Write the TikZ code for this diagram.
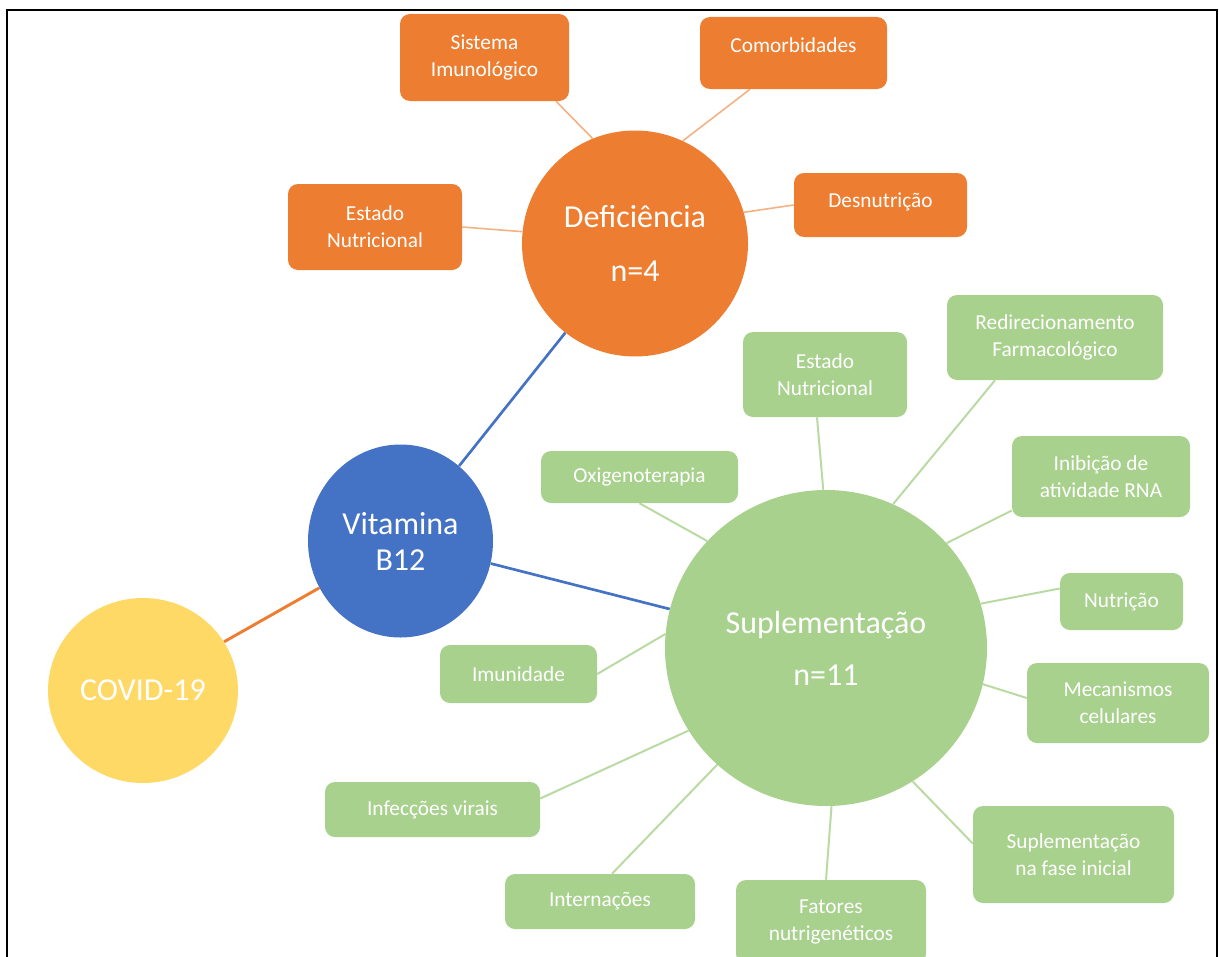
\documentclass[tikz,border=0pt]{standalone}
\usepackage{fontspec}
\setmainfont{Carlito}
\usetikzlibrary{shapes.geometric,calc,backgrounds}
\definecolor{oorange}{HTML}{ED7D31}
\definecolor{ogreen}{HTML}{A9D18E}
\definecolor{oblue}{HTML}{4472C4}
\definecolor{oyellow}{HTML}{FFD966}
\definecolor{lorange}{HTML}{F4B183}
\definecolor{lgreen}{HTML}{B9DAA2}
\begin{document}
\begin{tikzpicture}[x=0.75pt,y=-0.75pt,
  boxbase/.style={rectangle, rounded corners=7.5pt, text=white, align=center, inner sep=0pt, font=\fontsize{16}{20}\selectfont},
  obox/.style={boxbase, fill=oorange},
  gbox/.style={boxbase, fill=ogreen},
  bigbase/.style={text=white, align=center, inner sep=0pt, font=\fontsize{24}{29}\selectfont},
  ocirc/.style={bigbase, circle, fill=oorange},
  gcirc/.style={bigbase, ellipse, fill=ogreen},
  bell/.style={bigbase, ellipse, fill=oblue},
  yell/.style={bigbase, ellipse, fill=oyellow},
  oline/.style={draw=lorange, line width=1.2pt},
  gline/.style={draw=lgreen, line width=1.5pt},
  bline/.style={draw=oblue, line width=2pt},
  cline/.style={draw=oorange, line width=2.2pt},
  frameline/.style={draw=black, line width=1.6pt}
]
\useasboundingbox (0,0) rectangle (1219,956);
\clip (0,0) rectangle (1219,956);

% main circles
\node[ocirc, minimum size=169.5pt] (def) at (635,243.5) {Deficiência\\[11pt]n=4};
\node[gcirc, minimum width=241.5pt, minimum height=237pt] (sup) at (826,648) {Suplementação\\[10pt]n=11};
\node[bell, minimum width=138.75pt, minimum height=144.75pt, font=\fontsize{24}{27}\selectfont] (vit) at (400.5,541) {Vitamina\\B12};
\node[yell, minimum width=142.5pt, minimum height=138.75pt] (covid) at (143,690.5) {COVID-19};

% orange boxes
\node[obox, minimum width=126.75pt, minimum height=65.25pt] (sisI) at (484.5,57.5) {Sistema\\Imunológico};
\node[obox, minimum width=140.25pt, minimum height=54pt] (comorb) at (793.5,53) {\raisebox{12pt}{Comorbidades}};
\node[obox, minimum width=130.5pt, minimum height=64.5pt] (estNo) at (375,227) {Estado\\Nutricional};
\node[obox, minimum width=129.75pt, minimum height=48pt] (desn) at (880.5,205) {\raisebox{7pt}{Desnutrição}};

% green boxes
\node[gbox, minimum width=123pt, minimum height=63.75pt] (estNg) at (825,374.5) {Estado\\Nutricional};
\node[gbox, minimum width=162pt, minimum height=63.75pt] (redir) at (1055,337.5) {Redirecionamento\\Farmacológico};
\node[gbox, minimum width=147.75pt, minimum height=39pt] (oxig) at (639.5,477) {Oxigenoterapia};
\node[gbox, minimum width=133.5pt, minimum height=60.75pt] (inib) at (1101,476.5) {Inibição de\\atividade RNA};
\node[gbox, minimum width=92.25pt, minimum height=42.75pt] (nutr) at (1121.5,601.5) {Nutrição};
\node[gbox, minimum width=117.75pt, minimum height=43.5pt] (imun) at (518.5,674) {Imunidade};
\node[gbox, minimum width=136.5pt, minimum height=60pt] (mecan) at (1118,703) {Mecanismos\\celulares};
\node[gbox, minimum width=161.25pt, minimum height=41.25pt] (infec) at (432.5,809.5) {Infecções virais};
\node[gbox, minimum width=150.75pt, minimum height=72.75pt] (supF) at (1073.5,854.5) {Suplementação\\na fase inicial};
\node[gbox, minimum width=142.5pt, minimum height=41.25pt] (intern) at (600,901.5) {Internações};
\node[gbox, minimum width=142.5pt, minimum height=63pt] (fat) at (831,922) {Fatores\\nutrigenéticos};

\begin{scope}[on background layer]
  \draw[oline] (def.112) -- ($(sisI.south)+(71.5,0)$);
  \draw[oline] (def.65) -- ($(comorb.south)+(-43.5,0)$);
  \draw[oline] (def.174) -- (estNo.east);
  \draw[oline] (def.16) -- (desn.west);
  \draw[bline] (vit.52) -- (def.232);
  \draw[bline] (vit.346) -- (sup.166);
  \draw[cline] (covid.31) -- (vit.210);
  \draw[gline] (sup.138) -- (oxig.south);
  \draw[gline] (sup.91) -- ($(estNg.south)+(-8,0)$);
  \draw[gline] (sup.65) -- ($(redir.south)+(-60,0)$);
  \draw[gline] (sup.41) -- ($(inib.west)+(0,34)$);
  \draw[gline] (sup.16) -- ($(nutr.west)+(0,-13)$);
  \draw[gline] (sup.175) -- (imun.east);
  \draw[gline] (sup.347) -- ($(mecan.west)+(0,-5)$);
  \draw[gline] (sup.211) -- ($(infec.east)+(0,-11)$);
  \draw[gline] (sup.303) -- ($(supF.west)+(0,-11)$);
  \draw[gline] (sup.227) -- ($(intern.north)+(12,0)$);
  \draw[gline] (sup.272) -- ($(fat.north)+(-5,0)$);
\end{scope}

% frame
\coordinate (fbl) at (7,990);
\coordinate (ftl) at (7,10);
\coordinate (ftr) at (1217,10);
\coordinate (fbr) at (1217,990);
\draw[frameline] (fbl) -- (ftl) -- (ftr) -- (fbr);
\end{tikzpicture}
\end{document}
